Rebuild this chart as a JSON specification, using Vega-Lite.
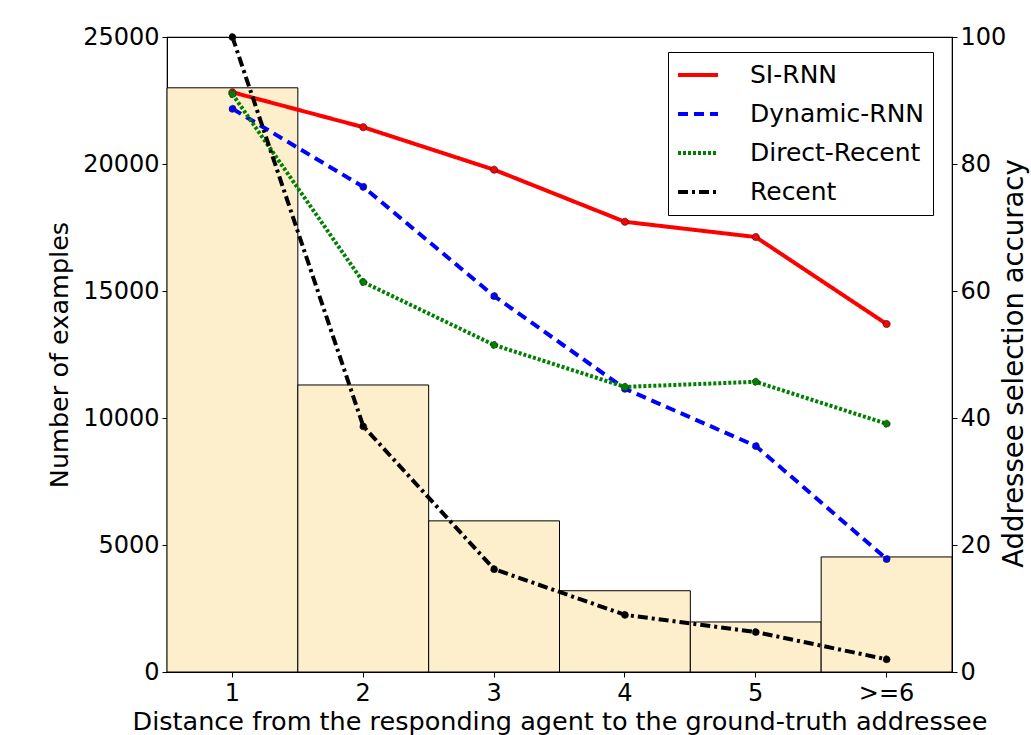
{
  "$schema": "https://vega.github.io/schema/vega-lite/v6.json",
  "width": 785,
  "height": 635,
  "autosize": {"type": "none"},
  "padding": {"left": 167, "top": 37, "right": 79, "bottom": 63},
  "background": "white",
  "config": {
    "font": "DejaVu Sans",
    "view": {"stroke": "black", "strokeWidth": 1.2},
    "axis": {
      "labelFont": "DejaVu Sans",
      "titleFont": "DejaVu Sans",
      "labelFontSize": 24,
      "titleFontSize": 25.5,
      "titleFontWeight": "normal",
      "labelColor": "black",
      "titleColor": "black",
      "domainColor": "black",
      "tickColor": "black",
      "grid": false
    },
    "legend": {
      "labelFont": "DejaVu Sans",
      "labelFontSize": 25,
      "labelColor": "black",
      "labelLimit": 0,
      "strokeColor": "black",
      "fillColor": "white",
      "padding": 8,
      "symbolType": "stroke",
      "symbolSize": 1600,
      "symbolStrokeWidth": 4,
      "labelOffset": 30,
      "clipHeight": 30,
      "rowPadding": 9
    }
  },
  "datasets": {
    "bars": [
      {"d": "1", "n": 23000},
      {"d": "2", "n": 11300},
      {"d": "3", "n": 5950},
      {"d": "4", "n": 3200},
      {"d": "5", "n": 1970},
      {"d": ">=6", "n": 4530}
    ],
    "lines": [
      {"model": "SI-RNN", "d": "1", "acc": 91.3},
      {"model": "SI-RNN", "d": "2", "acc": 85.8},
      {"model": "SI-RNN", "d": "3", "acc": 79.1},
      {"model": "SI-RNN", "d": "4", "acc": 70.9},
      {"model": "SI-RNN", "d": "5", "acc": 68.5},
      {"model": "SI-RNN", "d": ">=6", "acc": 54.8},
      {"model": "Dynamic-RNN", "d": "1", "acc": 88.7},
      {"model": "Dynamic-RNN", "d": "2", "acc": 76.4},
      {"model": "Dynamic-RNN", "d": "3", "acc": 59.2},
      {"model": "Dynamic-RNN", "d": "4", "acc": 44.6},
      {"model": "Dynamic-RNN", "d": "5", "acc": 35.6},
      {"model": "Dynamic-RNN", "d": ">=6", "acc": 17.8},
      {"model": "Direct-Recent", "d": "1", "acc": 91.0},
      {"model": "Direct-Recent", "d": "2", "acc": 61.4},
      {"model": "Direct-Recent", "d": "3", "acc": 51.5},
      {"model": "Direct-Recent", "d": "4", "acc": 44.9},
      {"model": "Direct-Recent", "d": "5", "acc": 45.7},
      {"model": "Direct-Recent", "d": ">=6", "acc": 39.1},
      {"model": "Recent", "d": "1", "acc": 100},
      {"model": "Recent", "d": "2", "acc": 38.7},
      {"model": "Recent", "d": "3", "acc": 16.2},
      {"model": "Recent", "d": "4", "acc": 9.0},
      {"model": "Recent", "d": "5", "acc": 6.3},
      {"model": "Recent", "d": ">=6", "acc": 2.0}
    ]
  },
  "layer": [
    {
      "data": {"name": "bars"},
      "mark": {"type": "bar", "fill": "#fdefcc", "stroke": "black", "strokeWidth": 1},
      "encoding": {
        "x": {
          "field": "d",
          "type": "ordinal",
          "sort": ["1", "2", "3", "4", "5", ">=6"],
          "scale": {"paddingInner": 0, "paddingOuter": 0},
          "axis": {
            "title": "Distance from the responding agent to the ground-truth addressee",
            "labelAngle": 0,
            "tickSize": 5,
            "labelPadding": 4,
            "titlePadding": 4
          }
        },
        "y": {
          "field": "n",
          "type": "quantitative",
          "scale": {"domain": [0, 25000], "nice": false},
          "axis": {
            "title": "Number of examples",
            "values": [0, 5000, 10000, 15000, 20000, 25000],
            "format": "d",
            "tickSize": 5,
            "labelPadding": 3,
            "titlePadding": 10
          }
        }
      }
    },
    {
      "data": {"name": "lines"},
      "mark": {"type": "line", "strokeWidth": 4, "point": {"filled": true, "size": 50, "stroke": "#222222", "strokeWidth": 0.8}},
      "encoding": {
        "x": {"field": "d", "type": "ordinal", "sort": ["1", "2", "3", "4", "5", ">=6"]},
        "y": {
          "field": "acc",
          "type": "quantitative",
          "scale": {"domain": [0, 100], "nice": false},
          "axis": {
            "orient": "right",
            "title": "Addressee selection accuracy",
            "titleAngle": 270,
            "titleBaseline": "bottom",
            "titleFontSize": 27.5,
            "titleY": 326,
            "values": [0, 20, 40, 60, 80, 100],
            "tickSize": 5,
            "labelPadding": 3,
            "titlePadding": 23
          }
        },
        "color": {
          "field": "model",
          "type": "nominal",
          "sort": ["SI-RNN", "Dynamic-RNN", "Direct-Recent", "Recent"],
          "scale": {
            "domain": ["SI-RNN", "Dynamic-RNN", "Direct-Recent", "Recent"],
            "range": ["#ff0000", "#0000ff", "#008000", "#000000"]
          },
          "legend": {"title": null, "orient": "none", "legendX": 501, "legendY": 15}
        },
        "strokeDash": {
          "field": "model",
          "type": "nominal",
          "sort": ["SI-RNN", "Dynamic-RNN", "Direct-Recent", "Recent"],
          "scale": {
            "domain": ["SI-RNN", "Dynamic-RNN", "Direct-Recent", "Recent"],
            "range": [[1, 0], [10, 6], [3, 2], [10, 4, 3, 4]]
          },
          "legend": {"title": null, "orient": "none", "legendX": 501, "legendY": 15}
        }
      }
    }
  ],
  "resolve": {"scale": {"y": "independent"}}
}
